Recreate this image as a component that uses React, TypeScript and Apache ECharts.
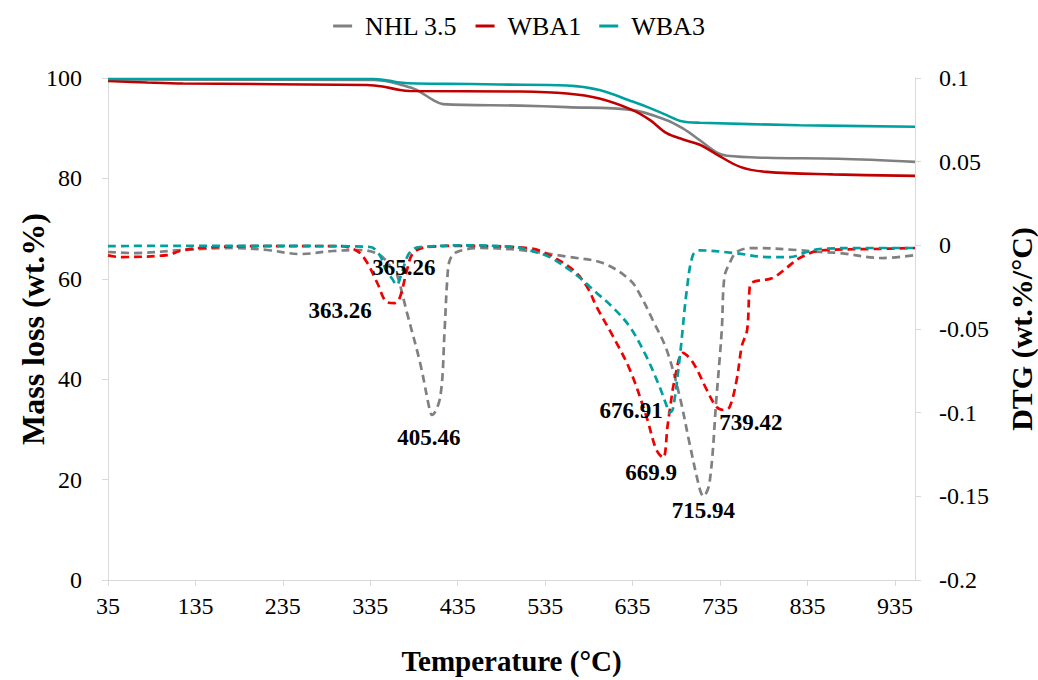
import React, { useEffect, useRef } from "react";
import * as echarts from "echarts";

// Temperature (°C) vs mass (wt.%) – TG curves
const nhlTG: [number, number][] = [
  [35, 99.7], [340, 99.6], [355, 99.3], [369, 98.7], [388, 97.6], [407, 95.6], [418, 94.8],
  [506, 94.5], [560, 94.2], [635, 93.6], [674, 91.6], [692, 90.0], [712, 87.6], [731, 85.2],
  [743, 84.5], [788, 84.1], [870, 83.9], [958, 83.3],
];
const wba1TG: [number, number][] = [
  [35, 99.4], [80, 99.1], [121, 98.9], [331, 98.6], [349, 98.3], [369, 97.6], [380, 97.4],
  [506, 97.3], [560, 96.9], [597, 95.9], [635, 93.6], [655, 91.6], [674, 89.0], [692, 87.8],
  [712, 86.7], [731, 84.8], [758, 82.3], [788, 81.3], [864, 80.8], [958, 80.5],
];
const wba3TG: [number, number][] = [
  [35, 99.8], [338, 99.8], [355, 99.5], [369, 99.1], [388, 98.9], [450, 98.8], [483, 98.7],
  [560, 98.5], [597, 97.6], [635, 95.3], [655, 94.0], [674, 92.6], [691, 91.4], [712, 91.1],
  [826, 90.6], [958, 90.3],
];

// Temperature (°C) vs DTG (wt.%/°C)
const nhlDTG: [number, number][] = [
  [35, -0.004], [64, -0.0046], [121, -0.0028], [178, -0.0016], [217, -0.0028], [255, -0.0052],
  [292, -0.0034], [323, -0.0028], [346, -0.0058], [361, -0.0147], [365, -0.0165], [377, -0.0404],
  [392, -0.0703], [403, -0.0984], [405.46, -0.1014], [415, -0.0906], [420, -0.0506], [423, -0.0207],
  [426, -0.0088], [434, -0.004], [460, -0.0016], [506, -0.0028], [563, -0.007], [601, -0.0106],
  [632, -0.0207], [645, -0.031], [658, -0.0446], [674, -0.0625], [689, -0.0906],
  [700, -0.118], [712, -0.146], [715.94, -0.150], [723, -0.142], [731, -0.0906], [737, -0.0506],
  [740, -0.019], [746, -0.0106], [754, -0.004], [772, -0.0016], [823, -0.0028], [849, -0.004],
  [872, -0.0046], [921, -0.0076], [958, -0.0058],
];
const wba1DTG: [number, number][] = [
  [35, -0.006], [49, -0.007], [103, -0.0058], [117, -0.0034], [140, -0.0016], [200, -0.0005],
  [300, -0.0005], [320, -0.0034], [331, -0.01], [343, -0.0225], [354, -0.0339], [363.26, -0.0345],
  [369, -0.0309], [377, -0.0147], [384, -0.0046], [400, -0.001], [440, -0.0003], [520, -0.002],
  [544, -0.007], [567, -0.0147], [583, -0.0249], [594, -0.0369], [613, -0.0548],
  [632, -0.0745], [651, -0.1026], [662, -0.122], [669.9, -0.127], [675, -0.108], [678, -0.0966],
  [683, -0.0805], [692.5, -0.0643], [704, -0.07], [720, -0.0865], [731, -0.0966], [739.42, -0.0984],
  [746, -0.0966], [754, -0.0805], [760, -0.06], [766, -0.0506], [769, -0.0249], [772, -0.022],
  [795, -0.0195], [811, -0.0135], [826, -0.0076], [850, -0.003], [910, -0.0022], [958, -0.0016],
];
const wba3DTG: [number, number][] = [
  [35, -0.0005], [100, -0.0003], [200, -0.0003], [300, -0.0005], [335, -0.001], [346, -0.006],
  [352, -0.0137], [360, -0.02], [365.26, -0.0237], [370, -0.018], [378, -0.006], [385, -0.002],
  [392, -0.001], [440, 0], [500, -0.001], [517, -0.003], [540, -0.007], [563, -0.0147],
  [575, -0.0195], [593, -0.028], [612, -0.0369], [632, -0.0488], [651, -0.0667], [666, -0.0847],
  [674, -0.096], [676.91, -0.1], [681, -0.098], [689, -0.0667],
  [697, -0.0267], [704, -0.0058], [712, -0.003], [754, -0.0048], [789, -0.007], [815, -0.007],
  [834, -0.004], [849, -0.0022], [900, -0.0016], [958, -0.0016],
];

// Peak temperatures labelled on the DTG curves
const nhlPeaks: [number, number][] = [[405.46, -0.1014], [715.94, -0.150]];
const wba1Peaks: [number, number][] = [[363.26, -0.0345], [669.9, -0.127], [739.42, -0.0984]];
const wba3Peaks: [number, number][] = [[365.26, -0.0237], [676.91, -0.1]];

const seriesNames = ["NHL 3.5", "WBA1", "WBA3"];
const xTicks = [35, 135, 235, 335, 435, 535, 635, 735, 835, 935];

const labelOffsets: Record<string, [number, number]> = {
  "405.46": [-3, 22],
  "715.94": [0, 14],
  "363.26": [-55, 7],
  "669.9": [-12, 15],
  "739.42": [27, 13],
  "365.26": [7, -17],
  "676.91": [-38, -2],
};

const GREY = "#808080";
const RED_TG = "#C00000";
const RED_DTG = "#F00000";
const TEAL = "#00A0A0";
const AXIS = "#D9D9D9";
const SERIF = "Liberation Serif";

function peakMarks(peaks: [number, number][]) {
  return {
    symbol: "circle",
    symbolSize: 1,
    itemStyle: { color: "rgba(0,0,0,0)" },
    label: {
      show: true,
      position: "inside",
      color: "#000",
      fontFamily: SERIF,
      fontWeight: "bold",
      fontSize: 23,
    },
    data: peaks.map(([t, v]) => {
      const txt = String(t);
      return {
        coord: [t, v],
        value: txt,
        label: { formatter: txt, offset: labelOffsets[txt] || [0, 0] },
      };
    }),
  };
}

export default function App() {
  const ref = useRef<HTMLDivElement>(null);
  useEffect(() => {
    if (!ref.current) return;
    const chart = echarts.init(ref.current, undefined, { renderer: "svg" });
    const tgLine = (name: string, data: [number, number][], color: string) => ({
      name,
      type: "line",
      yAxisIndex: 0,
      data,
      showSymbol: false,
      smooth: 0.35,
      lineStyle: { color, width: 2.6 },
      itemStyle: { color },
      z: 2,
    });
    const dtgLine = (name: string, data: [number, number][], color: string, peaks: [number, number][]) => ({
      name,
      type: "line",
      yAxisIndex: 1,
      data,
      showSymbol: false,
      smooth: 0.35,
      lineStyle: { color, width: 2.7, type: [8, 5] },
      itemStyle: { color },
      markPoint: peakMarks(peaks),
      z: 3,
    });
    chart.setOption({
      animation: false,
      backgroundColor: "#fff",
      grid: { left: 108, right: 123, top: 78, bottom: 100, containLabel: false, outerBoundsMode: "none" },
      legend: {
        data: seriesNames,
        top: 8,
        left: "center",
        icon: "rect",
        itemWidth: 19,
        itemHeight: 3,
        itemGap: 18,
        textStyle: { fontFamily: SERIF, fontSize: 26, color: "#000", padding: [0, 0, 0, 8] },
      },
      xAxis: {
        type: "value",
        min: 35,
        max: 958,
        name: "Temperature (°C)",
        nameLocation: "middle",
        nameGap: 66,
        nameMoveOverlap: false,
        nameTextStyle: { fontFamily: SERIF, fontWeight: "bold", fontSize: 29, color: "#000" },
        axisLine: { show: true, onZero: false, lineStyle: { color: AXIS, width: 1 } },
        axisTick: { show: true, length: 6, lineStyle: { color: AXIS }, customValues: xTicks },
        axisLabel: { fontFamily: SERIF, fontSize: 24, color: "#000", margin: 14, customValues: xTicks },
        splitLine: { show: false },
      },
      yAxis: [
        {
          type: "value",
          min: 0,
          max: 100,
          interval: 20,
          name: "Mass loss (wt.%)",
          nameLocation: "middle",
          nameGap: 59,
          nameMoveOverlap: false,
          nameTextStyle: { fontFamily: SERIF, fontWeight: "bold", fontSize: 32, color: "#000" },
          axisLine: { show: true, lineStyle: { color: AXIS, width: 1 } },
          axisTick: { show: true, length: 6, lineStyle: { color: AXIS } },
          axisLabel: { fontFamily: SERIF, fontSize: 24, color: "#000", margin: 26 },
          splitLine: { show: false },
        },
        {
          type: "value",
          min: -0.2,
          max: 0.1,
          interval: 0.05,
          position: "right",
          name: "DTG (wt.%/°C)",
          nameLocation: "middle",
          nameGap: 91,
          nameMoveOverlap: false,
          nameTextStyle: { fontFamily: SERIF, fontWeight: "bold", fontSize: 30, color: "#000" },
          axisLine: { show: true, lineStyle: { color: AXIS, width: 1 } },
          axisTick: { show: true, length: 6, lineStyle: { color: AXIS } },
          axisLabel: {
            fontFamily: SERIF,
            fontSize: 24,
            color: "#000",
            margin: 24,
            formatter: (v: number) => String(Math.round(v * 100) / 100),
          },
          splitLine: { show: false },
        },
      ],
      series: [
        tgLine(seriesNames[0], nhlTG, GREY),
        tgLine(seriesNames[1], wba1TG, RED_TG),
        tgLine(seriesNames[2], wba3TG, TEAL),
        dtgLine(seriesNames[0], nhlDTG, GREY, nhlPeaks),
        dtgLine(seriesNames[1], wba1DTG, RED_DTG, wba1Peaks),
        dtgLine(seriesNames[2], wba3DTG, TEAL, wba3Peaks),
      ],
    });
    return () => chart.dispose();
  }, []);
  return <div ref={ref} style={{ width: 1038, height: 680, position: "absolute", left: 0, top: 0 }} />;
}
